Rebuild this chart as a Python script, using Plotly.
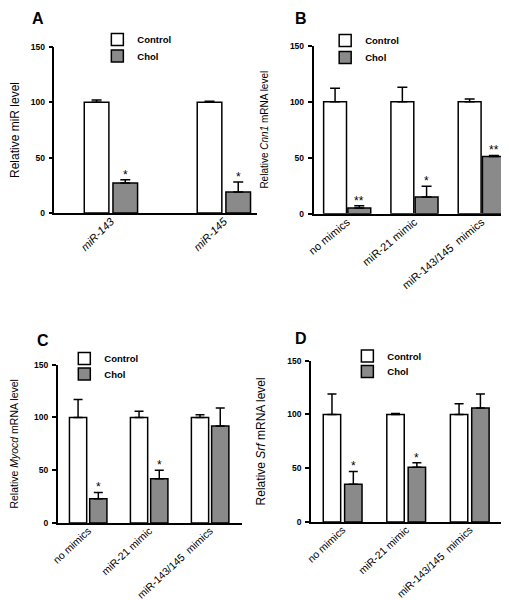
import plotly.graph_objects as go

W, H = 509, 600

# ---------------- data ----------------
a_categories = ["miR-143", "miR-145"]
a_control = [100, 100]
a_control_err = [2, 1]
a_chol = [27, 19]
a_chol_err = [3, 9]
a_stars = ["*", "*"]

mimic_categories = ["no mimics", "miR-21 mimic", "miR-143/145\u00a0 mimics"]

b_control = [100, 100, 100]
b_control_err = [12, 13, 2.5]
b_chol = [5, 15, 51]
b_chol_err = [2, 9.5, 1]
b_stars = ["**", "*", "**"]

c_control = [100, 100, 100]
c_control_err = [17, 6, 2.5]
c_chol = [23, 42, 92]
c_chol_err = [6, 8, 17]
c_stars = ["*", "*", ""]

d_control = [100, 100, 100]
d_control_err = [19, 1, 10]
d_chol = [35, 51, 106]
d_chol_err = [12, 4, 13]
d_stars = ["*", "*", ""]

y_ticks = [0, 50, 100, 150]
series_names = ["Control", "Chol"]

FONT = "Arial, Liberation Sans, Helvetica, sans-serif"
CHOL_COLOR = "#8a8a8a"


def px_x(v):
    return v / W


def px_y(v):
    return 1 - v / H


panels = [
    dict(letter="A", cats=a_categories, ctrl=a_control, ctrl_err=a_control_err,
         chol=a_chol, chol_err=a_chol_err, stars=a_stars,
         ticktext=["<i>%s</i>" % c for c in a_categories],
         ytitle="Relative miR level", ytitle_size=12,
         xdom=(40, 245), ydom=(205, 39), xmax=1.29, h=0.127, w=0.218, cap=5,
         tickangle=-45, tick_size=11, letter_pos=(23, 10),
         leg=[(123.5, 42), (123.5, 58.5)]),
    dict(letter="B", cats=mimic_categories, ctrl=b_control, ctrl_err=b_control_err,
         chol=b_chol, chol_err=b_chol_err, stars=b_stars,
         ticktext=mimic_categories,
         ytitle="Relative <i>Cnn1</i> mRNA level", ytitle_size=10,
         xdom=(302.7, 506.7), ydom=(205.7, 37.7), xmax=2.49, h=0.18, w=0.34, cap=5,
         tickangle=-40, tick_size=11, letter_pos=(290, 10),
         leg=[(354.5, 43), (354.5, 60)]),
    dict(letter="C", cats=mimic_categories, ctrl=c_control, ctrl_err=c_control_err,
         chol=c_chol, chol_err=c_chol_err, stars=c_stars,
         ticktext=mimic_categories,
         ytitle="Relative <i>Myocd</i> mRNA level", ytitle_size=10.5,
         xdom=(43.3, 230), ydom=(515, 356.7), xmax=2.52, h=0.166, w=0.283, cap=4.5,
         tickangle=-43, tick_size=10.5, letter_pos=(28, 332),
         leg=[(90, 361), (90, 376.5)]),
    dict(letter="D", cats=mimic_categories, ctrl=d_control, ctrl_err=d_control_err,
         chol=d_chol, chol_err=d_chol_err, stars=d_stars,
         ticktext=mimic_categories,
         ytitle="Relative <i>Srf</i> mRNA level", ytitle_size=12,
         xdom=(300, 493.3), ydom=(514, 352.7), xmax=2.5, h=0.168, w=0.274, cap=4.5,
         tickangle=-43, tick_size=10.5, letter_pos=(290, 330),
         leg=[(377, 358.5), (377, 374)]),
]

# empirical offsets of Plotly's legend item relative to the legend anchor
LEG_SYMBOL_DX = 35
LEG_DY = 10.5

fig = go.Figure()
layout = dict(
    width=W, height=H, autosize=False,
    margin=dict(l=0, r=0, t=0, b=0),
    paper_bgcolor="white", plot_bgcolor="white",
    barmode="overlay",
    font=dict(family=FONT, color="black"),
)
annotations = []

legend_idx = 0
for i, p in enumerate(panels):
    s = "" if i == 0 else str(i + 1)
    xa, ya = "x" + s, "y" + s
    n = len(p["cats"])
    series = [
        (series_names[0], p["ctrl"], p["ctrl_err"], "white", -p["h"] - p["w"] / 2),
        (series_names[1], p["chol"], p["chol_err"], CHOL_COLOR, p["h"] - p["w"] / 2),
    ]
    for k, (name, vals, errs, color, off) in enumerate(series):
        legend_idx += 1
        lname = "legend" if legend_idx == 1 else "legend%d" % legend_idx
        fig.add_trace(go.Bar(
            x=p["cats"], y=vals, name=name,
            width=p["w"], offset=off,
            marker=dict(color=color, line=dict(color="black", width=1.5)),
            error_y=dict(type="data", array=errs, arrayminus=[0] * n,
                         symmetric=False, color="black", thickness=1.5,
                         width=p["cap"]),
            xaxis=xa, yaxis=ya, legend=lname, showlegend=True,
        ))
        lx, ly = p["leg"][k]
        layout[lname] = dict(
            x=px_x(lx - 5 - LEG_SYMBOL_DX), y=px_y(ly - LEG_DY),
            xanchor="left", yanchor="middle",
            bgcolor="rgba(0,0,0,0)", borderwidth=0,
            font=dict(family=FONT, size=9.5, color="black", weight="bold"),
        )

    layout["xaxis" + s] = dict(
        domain=[px_x(p["xdom"][0]), px_x(p["xdom"][1])],
        anchor=ya, type="category",
        range=[-0.5, p["xmax"]],
        categoryorder="array", categoryarray=p["cats"],
        tickvals=p["cats"], ticktext=p["ticktext"],
        tickangle=p["tickangle"], ticks="",
        ticklabelstandoff=-4,
        tickfont=dict(family=FONT, size=p["tick_size"], color="black"),
        showline=True, linecolor="black", linewidth=1.5,
        showgrid=False, zeroline=False, fixedrange=True,
    )
    layout["yaxis" + s] = dict(
        domain=[px_y(p["ydom"][0]), px_y(p["ydom"][1])],
        anchor=xa, range=[0, 150], tickvals=y_ticks,
        ticks="outside", ticklen=4, tickwidth=1.5, tickcolor="black",
        ticklabelstandoff=2,
        tickfont=dict(family=FONT, size=8.5, color="black", weight="bold"),
        showline=True, linecolor="black", linewidth=1.5,
        showgrid=False, zeroline=False, fixedrange=True,
        automargin=False,
        title=dict(text=p["ytitle"], standoff=19,
                   font=dict(family=FONT, size=p["ytitle_size"], color="black")),
    )

    # significance stars above the Chol error bars
    for j, star in enumerate(p["stars"]):
        if not star:
            continue
        annotations.append(dict(
            x=j + p["h"], y=p["chol"][j] + p["chol_err"][j],
            xref=xa, yref=ya, text=star, showarrow=False,
            xanchor="center", yanchor="bottom", yshift=-4,
            font=dict(family=FONT, size=12, color="black"),
        ))

    # panel letter
    lx, ly = p["letter_pos"]
    annotations.append(dict(
        x=px_x(lx), y=px_y(ly), xref="paper", yref="paper",
        text="<b>%s</b>" % p["letter"], showarrow=False,
        xanchor="center", yanchor="middle",
        font=dict(family=FONT, size=16, color="black"),
    ))

layout["annotations"] = annotations
fig.update_layout(**layout)
fig.write_html("out.html")
